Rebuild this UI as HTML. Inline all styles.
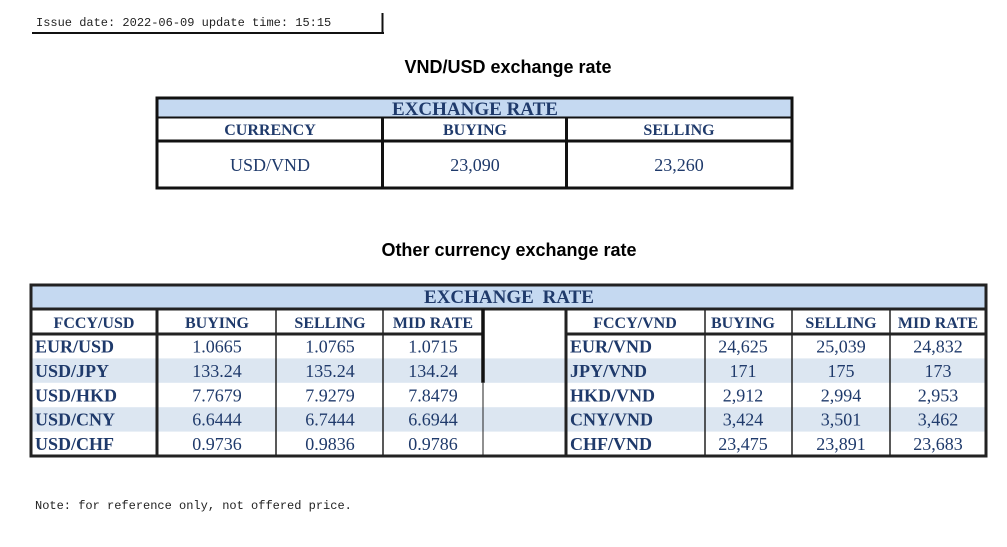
<!DOCTYPE html>
<html><head><meta charset="utf-8"><style>
body{margin:0;background:#fff;width:1007px;height:547px;overflow:hidden}
svg{display:block}
.m{font-family:"Liberation Mono","Noto Sans CJK SC",monospace;font-size:12px;fill:#222}
.t{font-family:"Liberation Sans",sans-serif;font-weight:bold;font-size:18px;fill:#000}
.h{font-family:"Liberation Serif",serif;font-weight:bold;font-size:16px;fill:#1f3a6b}
.hb{font-family:"Liberation Serif",serif;font-weight:bold;font-size:19px;fill:#1f3a6b}
.d{font-family:"Liberation Serif",serif;font-size:18px;fill:#1f3a6b}
.n{font-family:"Liberation Serif",serif;font-weight:bold;font-size:18px;fill:#1f3a6b}
</style></head><body>
<svg width="1007" height="547">
<g>
<text class="m" x="36" y="26">Issue date: 2022-06-09 update time: 15:15</text>
<line x1="32" y1="33" x2="384" y2="33" stroke="#111" stroke-width="2"/>
<line x1="382.5" y1="13" x2="382.5" y2="34" stroke="#111" stroke-width="2"/>
</g>
<text class="t" x="508" y="73" text-anchor="middle">VND/USD exchange rate</text>
<g>
<rect x="157" y="98" width="635" height="19" fill="#c5d9f1"/>
<rect x="157" y="98" width="635" height="90" fill="none" stroke="#111" stroke-width="3"/>
<line x1="157" y1="117.5" x2="792" y2="117.5" stroke="#111" stroke-width="2"/>
<line x1="157" y1="141" x2="792" y2="141" stroke="#111" stroke-width="3"/>
<line x1="382.5" y1="117" x2="382.5" y2="188" stroke="#111" stroke-width="3"/>
<line x1="566.5" y1="117" x2="566.5" y2="188" stroke="#111" stroke-width="3"/>
<text class="hb" x="475" y="115" text-anchor="middle">EXCHANGE RATE</text>
<text class="h" x="270" y="135" text-anchor="middle">CURRENCY</text>
<text class="h" x="475" y="135" text-anchor="middle">BUYING</text>
<text class="h" x="679" y="135" text-anchor="middle">SELLING</text>
<text class="d" x="270" y="171" text-anchor="middle">USD/VND</text>
<text class="d" x="475" y="171" text-anchor="middle">23,090</text>
<text class="d" x="679" y="171" text-anchor="middle">23,260</text>
</g>
<text class="t" x="509" y="256" text-anchor="middle">Other currency exchange rate</text>
<g id="t2"></g>
<text class="m" x="35" y="509">Note: for reference only, not offered price.</text>
</svg>
<script>
const leftPairs=["EUR/USD","USD/JPY","USD/HKD","USD/CNY","USD/CHF"];
const leftBuy=["1.0665","133.24","7.7679","6.6444","0.9736"];
const leftSell=["1.0765","135.24","7.9279","6.7444","0.9836"];
const leftMid=["1.0715","134.24","7.8479","6.6944","0.9786"];
const rightPairs=["EUR/VND","JPY/VND","HKD/VND","CNY/VND","CHF/VND"];
const rightBuy=["24,625","171","2,912","3,424","23,475"];
const rightSell=["25,039","175","2,994","3,501","23,891"];
const rightMid=["24,832","173","2,953","3,462","23,683"];
const NS="http://www.w3.org/2000/svg";
const g=document.getElementById('t2');
function mk(tag,at,txt){const e=document.createElementNS(NS,tag);for(const k in at)e.setAttribute(k,at[k]);if(txt!=null)e.textContent=txt;g.appendChild(e);return e;}
const X0=31,X1=986,Y0=285,YH=309,YR=334,RH=24.4;
const YB=YR+RH*leftPairs.length;
mk('rect',{x:X0,y:Y0,width:X1-X0,height:YH-Y0,fill:'#c5d9f1'});
leftPairs.forEach((p,i)=>{if(i%2==1){const r=mk('rect',{x:X0,y:YR+RH*i,width:X1-X0,height:RH,fill:'#dce6f1'});

}});
mk('rect',{x:X0,y:Y0,width:X1-X0,height:YB-Y0,fill:'none',stroke:'#222','stroke-width':3});
mk('line',{x1:X0,y1:YH,x2:X1,y2:YH,stroke:'#222','stroke-width':3});
mk('line',{x1:X0,y1:YR,x2:483,y2:YR,stroke:'#222','stroke-width':3});
mk('line',{x1:566,y1:YR,x2:X1,y2:YR,stroke:'#222','stroke-width':3});
[157,276,383].forEach(x=>mk('line',{x1:x,y1:YH,x2:x,y2:YB,stroke:'#222','stroke-width':x==157?3:1.5}));
mk('line',{x1:483,y1:YH,x2:483,y2:YR+RH*2,stroke:'#111','stroke-width':3.5});
mk('line',{x1:483,y1:YR+RH*2,x2:483,y2:YB,stroke:'#222','stroke-width':1});
[566,705,792,890].forEach(x=>mk('line',{x1:x,y1:YH,x2:x,y2:YB,stroke:'#222','stroke-width':x==566?3:1.5}));
const ht=mk('text',{class:'hb',x:509,y:303,'text-anchor':'middle','word-spacing':'4'},'EXCHANGE RATE');


const lh=[["FCCY/USD",94],["BUYING",217],["SELLING",330],["MID RATE",433]];
const rh=[["FCCY/VND",635],["BUYING",743],["SELLING",841],["MID RATE",938]];
lh.concat(rh).forEach(([t,x])=>{const e=mk('text',{class:'h',x:x,y:328,'text-anchor':'middle'},t);

});
function row(pairs,buy,sell,mid,xs,xn){pairs.forEach((p,i)=>{const y=YR+RH*i+18.5;
const n=mk('text',{class:'n',x:xn,y:y},p);


[buy[i],sell[i],mid[i]].forEach((v,j)=>{const e=mk('text',{class:'d',x:xs[j],y:y,'text-anchor':'middle'},v);

});});}
row(leftPairs,leftBuy,leftSell,leftMid,[217,330,433],35);
row(rightPairs,rightBuy,rightSell,rightMid,[743,841,938],570);
</script>
</body></html>
